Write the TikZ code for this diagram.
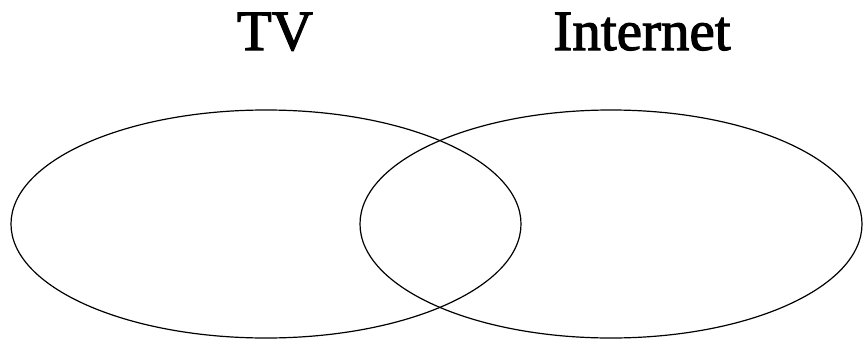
\documentclass[tikz,border=0pt]{standalone}
\usepackage{fontspec}
\setmainfont{Liberation Serif}
\newfontfamily\headfont[FakeBold=2]{Liberation Serif}
\usetikzlibrary{shapes.geometric, positioning}
\tikzset{
	set/.style={draw, ellipse, line width=1.2pt, inner sep=0pt}, %the two circles of the venn diagram
	title/.style={anchor=base, font=\headfont\fontsize{57}{60}\selectfont}, %the names above the sets
}

\begin{document}
\begin{tikzpicture}[x=1pt,y=-1pt]
			\useasboundingbox (0,0) rectangle (864,340);
			\node[set, minimum width=510pt, minimum height=228pt] (TV) at (266,224) {};
			\node[set, minimum width=502pt, minimum height=228pt] (NET) at (611,224) {};
			\node[title] (tvname) at (275,50) {TV};
			\node[title] (netname) at (642,50) {Internet};
		\end{tikzpicture}
\end{document}
